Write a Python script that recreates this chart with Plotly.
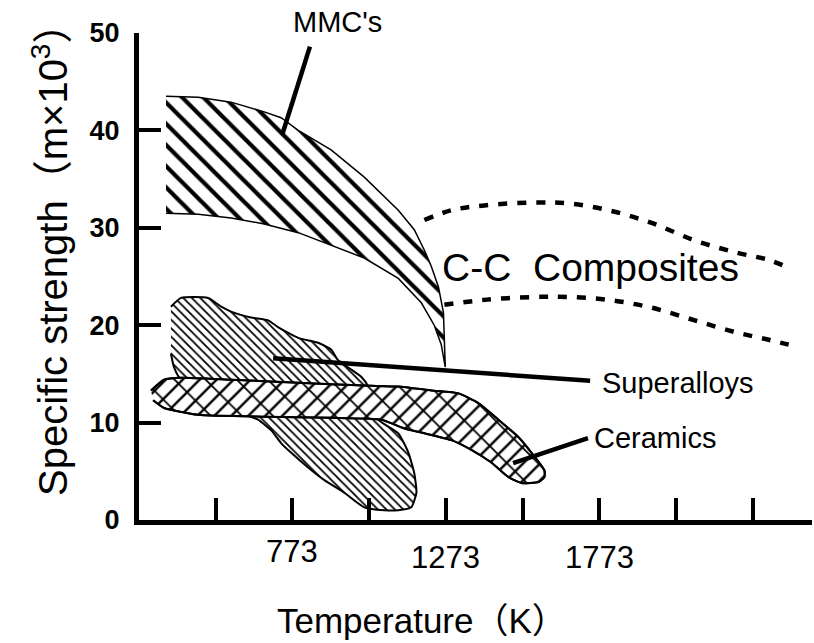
import plotly.graph_objects as go

# ---------------- data ----------------
y_ticks = [0, 10, 20, 30, 40, 50]
x_ticks = [523, 773, 1023, 1273, 1523, 1773, 2023, 2273]
x_label_vals = [773, 1273, 1773]
x_label_text = ["773", "1273", "1773"]

# MMC's band (temperature K, specific strength x10^3 m)
mmc_upper_T = [361, 466, 573, 681, 736, 792, 899, 1007, 1118, 1170, 1203, 1226, 1249, 1265, 1268, 1271]
mmc_upper_S = [43.5, 43.4, 42.9, 41.9, 41.3, 40.0, 38.0, 35.2, 31.8, 29.8, 27.7, 26.0, 23.9, 21.3, 18.5, 15.7]
mmc_lower_T = [361, 466, 573, 681, 792, 899, 1007, 1118, 1193, 1235, 1258, 1271]
mmc_lower_S = [31.5, 31.4, 31.0, 30.4, 29.5, 28.2, 26.9, 24.8, 22.3, 20.0, 18.0, 15.7]

# Superalloys region outline
sup_T = [377, 410, 498, 541, 573, 638, 694, 726, 792, 857, 899, 922, 997, 1020, 1053, 1118, 1151,
         1170, 1177, 1160, 1118, 1072, 1007, 942, 877, 824, 769, 736, 704, 661, 638, 410, 387, 377]
sup_S = [21.9, 22.8, 22.8, 21.9, 21.4, 20.8, 20.5, 19.8, 18.7, 18.2, 17.5, 16.4, 14.7, 13.7, 10.3, 8.9, 6.9,
         4.8, 2.8, 1.3, 1.0, 1.0, 1.3, 2.8, 4.1, 5.4, 6.9, 7.9, 9.2, 10.3, 10.6, 14.4, 15.7, 17.1]

# Ceramics region outline
cer_T = [312, 355, 410, 573, 792, 1007, 1118, 1226, 1314, 1379, 1444, 1510, 1552, 1594, 1594, 1575,
         1519, 1477, 1421, 1356, 1291, 1203, 1138, 1063, 899, 681, 465, 355, 319]
cer_S = [13.3, 14.4, 14.6, 14.4, 14.1, 13.8, 13.7, 13.3, 13.0, 12.0, 10.3, 8.5, 6.9, 5.1, 4.4, 3.9,
         3.8, 4.4, 5.9, 7.2, 8.2, 8.9, 9.4, 10.3, 10.5, 10.6, 10.8, 11.5, 12.3]

# C-C composites bounds (dashed)
cc_upper_T = [1203, 1291, 1399, 1562, 1673, 1803, 1943, 2084, 2214, 2325, 2390]
cc_upper_S = [30.8, 31.8, 32.3, 32.6, 32.5, 31.8, 30.5, 28.7, 27.5, 26.7, 25.9]
cc_lower_T = [1268, 1399, 1562, 1673, 1803, 1943, 2084, 2214, 2325, 2390]
cc_lower_S = [22.1, 22.6, 22.9, 22.9, 22.6, 21.8, 20.5, 19.3, 18.5, 18.0]

# labels and leader lines (T, S)
labels = ["MMC's", "C-C  Composites", "Superalloys", "Ceramics"]
label_T = [921, 1743, 1775, 1749]
label_S = [51.1, 25.9, 14.1, 8.4]
leader_mmc_T = [830, 739]
leader_mmc_S = [48.6, 39.5]
leader_sup_T = [710, 1743]
leader_sup_S = [16.6, 14.3]
leader_cer_T = [1492, 1736]
leader_cer_S = [5.85, 8.4]

FONT = "Liberation Sans, Arial, Helvetica, Noto Sans CJK JP, sans-serif"
X0, X1, Y0, Y1 = 273, 2466, 0, 50

fig = go.Figure()

# MMC's
fig.add_trace(go.Scatter(
    x=mmc_upper_T + mmc_lower_T[::-1], y=mmc_upper_S + mmc_lower_S[::-1],
    mode="lines", fill="toself", fillcolor="white",
    fillpattern=dict(shape="\\", size=15, solidity=0.28, fgcolor="black", fgopacity=1, bgcolor="white"),
    line=dict(color="black", width=1.5), hoverinfo="skip"))

# Superalloys
fig.add_trace(go.Scatter(
    x=sup_T, y=sup_S, mode="lines", fill="toself", fillcolor="white",
    fillpattern=dict(shape="\\", size=6, solidity=0.3, fgcolor="black", fgopacity=1, bgcolor="white"),
    line=dict(color="black", width=2, shape="spline", smoothing=0.5), hoverinfo="skip"))

# Ceramics (brick-like: diagonal lines + sparser cross lines)
fig.add_trace(go.Scatter(
    x=cer_T, y=cer_S, mode="lines", fill="toself", fillcolor="white",
    fillpattern=dict(shape="/", size=12, solidity=0.2, fgcolor="black", fgopacity=1, bgcolor="white"),
    line=dict(color="black", width=2, shape="spline", smoothing=0.5), hoverinfo="skip"))
fig.add_trace(go.Scatter(
    x=cer_T, y=cer_S, mode="lines", fill="toself", fillcolor="rgba(0,0,0,0)",
    fillpattern=dict(shape="\\", size=22, solidity=0.08, fgcolor="black", fgopacity=1,
                     bgcolor="rgba(0,0,0,0)"),
    line=dict(color="black", width=2, shape="spline", smoothing=0.5), hoverinfo="skip"))

# C-C composites dashed bounds
for xs, ys in [(cc_upper_T, cc_upper_S), (cc_lower_T, cc_lower_S)]:
    fig.add_trace(go.Scatter(x=xs, y=ys, mode="lines",
                             line=dict(color="black", width=4.5, dash="9px,10px", shape="spline"),
                             hoverinfo="skip"))

# leader lines
for xs, ys in [(leader_mmc_T, leader_mmc_S), (leader_sup_T, leader_sup_S), (leader_cer_T, leader_cer_S)]:
    fig.add_trace(go.Scatter(x=xs, y=ys, mode="lines", line=dict(color="black", width=4.5),
                             hoverinfo="skip"))

# text labels (placed in paper space so labels outside the data range still show)
anchors = ["center", "center", "left", "left"]
sizes = [29, 39, 29, 29]
for t, x, y, a, s in zip(labels, label_T, label_S, anchors, sizes):
    fig.add_annotation(x=(x - X0) / (X1 - X0), y=(y - Y0) / (Y1 - Y0), xref="paper", yref="paper",
                       text=t, showarrow=False, xanchor=a, yanchor="middle",
                       font=dict(family=FONT, size=s, color="black"))

# x tick labels (staggered as in the original)
label_y_px = [551, 557, 557]
for v, t, py in zip(x_label_vals, x_label_text, label_y_px):
    fig.add_annotation(x=v, y=(520 - py) / 487, xref="x", yref="paper", text=t, showarrow=False,
                       xanchor="center", yanchor="middle", font=dict(family=FONT, size=31, color="black"))

# axis titles
fig.add_annotation(x=(422 - 139) / 673, y=(520 - 620) / 487, xref="paper", yref="paper",
                   text="Temperature（K）", showarrow=False, xanchor="center", yanchor="middle",
                   font=dict(family=FONT, size=35, color="black"))
fig.add_annotation(x=(50 - 139) / 673, y=(520 - 250) / 487, xref="paper", yref="paper",
                   text="Specific strength（m×10<sup>3</sup>）", showarrow=False, textangle=-90,
                   xanchor="center", yanchor="middle",
                   font=dict(family=FONT, size=40, color="black"))

fig.update_layout(
    width=814, height=643,
    margin=dict(l=139, r=2, t=33, b=123),
    paper_bgcolor="white", plot_bgcolor="white",
    showlegend=False,
    xaxis=dict(range=[X0, X1], showline=True, linewidth=5, linecolor="black",
               ticks="inside", ticklen=22, tickwidth=4, tickcolor="black",
               tickvals=x_ticks, showticklabels=False, showgrid=False, zeroline=False),
    yaxis=dict(range=[Y0, Y1], showline=True, linewidth=5, linecolor="black",
               ticks="inside", ticklen=22, tickwidth=4, tickcolor="black",
               tickvals=y_ticks, showgrid=False, zeroline=False, ticklabelstandoff=9,
               tickfont=dict(family=FONT, size=27, color="black", weight="bold")),
)

fig.write_html("out.html")
